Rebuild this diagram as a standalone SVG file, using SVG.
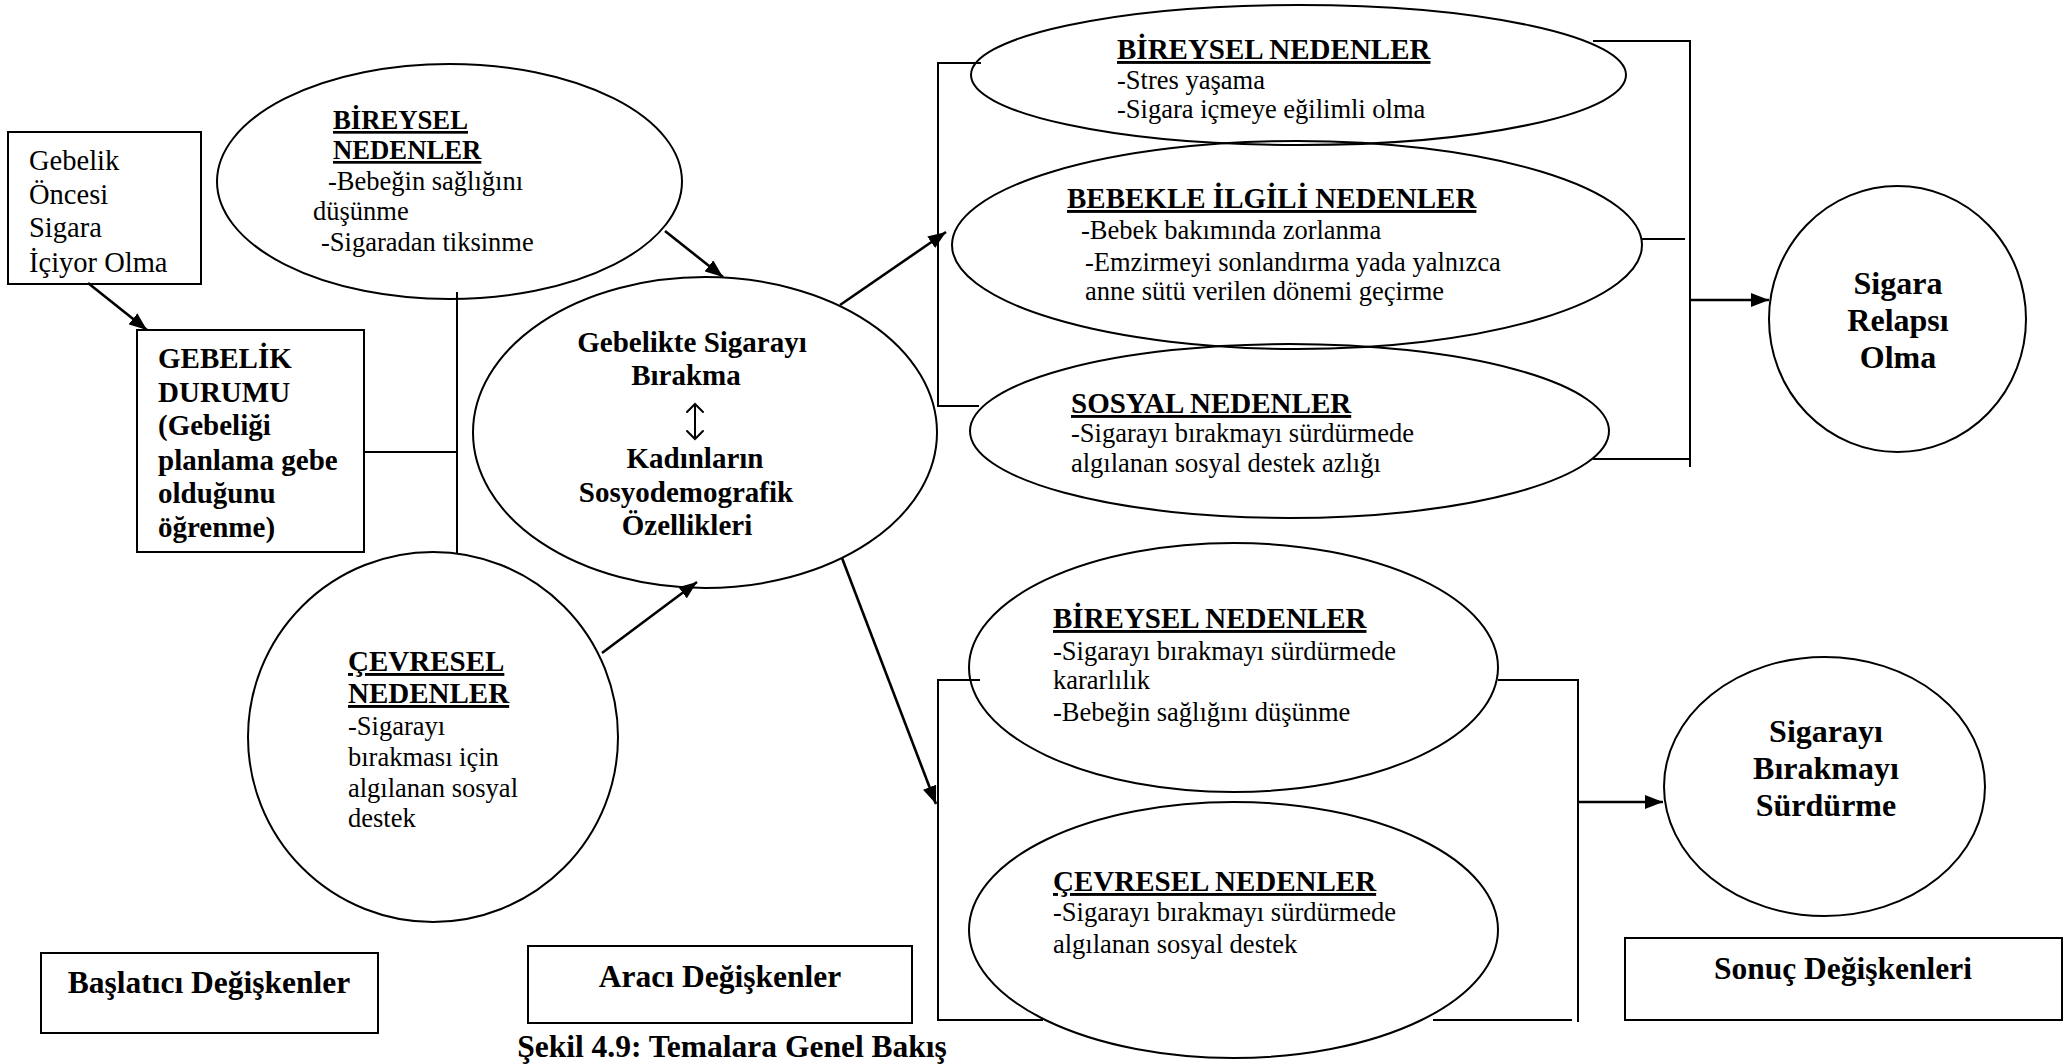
<svg xmlns="http://www.w3.org/2000/svg" width="2066" height="1064" viewBox="0 0 2066 1064">
  <defs>
    <style>
      .shape { fill: none; stroke: #000; stroke-width: 2; }
      .line { fill: none; stroke: #000; stroke-width: 2; }
      .arrow { fill: none; stroke: #000; stroke-width: 2.6; marker-end: url(#head); }
      .dbl { fill: none; stroke: #000; stroke-width: 2; stroke-linecap: round; stroke-linejoin: miter; }
      text { font-family: "Liberation Serif", "Times New Roman", serif; fill: #000; }
      .body { font-size: 26.5px; }
      .body29 { font-size: 28.5px; }
      .bold29 { font-size: 29px; font-weight: bold; }
      .head { font-size: 29px; font-weight: bold; text-decoration: underline; }
      .head27 { font-size: 26.7px; font-weight: bold; text-decoration: underline; }
      .big { font-size: 32px; font-weight: bold; text-anchor: middle; }
      .label { font-size: 31.5px; font-weight: bold; text-anchor: middle; }
      .mid { text-anchor: middle; }
    </style>
    <marker id="head" viewBox="0 0 18 14" refX="18" refY="7" markerWidth="18" markerHeight="14" markerUnits="userSpaceOnUse" orient="auto">
      <path d="M0,0 L18,7 L0,14 z" fill="#000"/>
    </marker>
  </defs>
  <rect width="2066" height="1064" fill="#fff"/>

  <!-- connectors -->
  <g id="connectors">
    <line class="arrow" x1="88" y1="283" x2="147" y2="330"/>
    <line class="line" x1="363" y1="452" x2="457" y2="452"/>
    <line class="line" x1="457" y1="292" x2="457" y2="553"/>
    <line class="arrow" x1="665" y1="231" x2="723" y2="277"/>
    <line class="arrow" x1="602" y1="653" x2="697" y2="582"/>
    <line class="arrow" x1="840" y1="305" x2="946" y2="232"/>
    <line class="arrow" x1="842" y1="558" x2="936" y2="804"/>
    <!-- upper group brackets -->
    <polyline class="line" points="981,63 938,63 938,406 979,406"/>
    <polyline class="line" points="1593,41 1690,41 1690,467"/>
    <line class="line" x1="1593" y1="459" x2="1690" y2="459"/>
    <line class="line" x1="1642" y1="239" x2="1685" y2="239"/>
    <line class="arrow" x1="1690" y1="300" x2="1769" y2="300"/>
    <!-- lower group brackets -->
    <polyline class="line" points="980,680 938,680 938,1020 1043,1020"/>
    <polyline class="line" points="1498,680 1578,680 1578,1022"/>
    <line class="line" x1="1433" y1="1020" x2="1572" y2="1020"/>
    <line class="arrow" x1="1578" y1="802" x2="1663" y2="802"/>
  </g>

  <g id="gebelik-oncesi">
    <rect class="shape" x="8" y="132" width="193" height="152"/>
    <text class="body29" x="29" y="170">Gebelik</text>
    <text class="body29" x="29" y="204">Öncesi</text>
    <text class="body29" x="29" y="237">Sigara</text>
    <text class="body29" x="29" y="272">İçiyor Olma</text>
  </g>

  <g id="gebelik-durumu">
    <rect class="shape" x="137" y="330" width="227" height="222"/>
    <text class="bold29" x="158" y="368">GEBELİK</text>
    <text class="bold29" x="158" y="402">DURUMU</text>
    <text class="bold29" x="158" y="435">(Gebeliği</text>
    <text class="bold29" x="158" y="470">planlama gebe</text>
    <text class="bold29" x="158" y="503">olduğunu</text>
    <text class="bold29" x="158" y="537">öğrenme)</text>
  </g>

  <g id="bireysel-nedenler-1">
    <ellipse class="shape" cx="449.5" cy="181.5" rx="232.5" ry="117.5"/>
    <text class="head27" x="333" y="129">BİREYSEL</text>
    <text class="head27" x="333" y="159">NEDENLER</text>
    <text class="body" x="328" y="190">-Bebeğin sağlığını</text>
    <text class="body" x="313" y="220">düşünme</text>
    <text class="body" x="321" y="251">-Sigaradan tiksinme</text>
  </g>

  <g id="cevresel-nedenler-1">
    <circle class="shape" cx="433" cy="737" r="185"/>
    <text class="head" x="348" y="671">ÇEVRESEL</text>
    <text class="head" x="348" y="703">NEDENLER</text>
    <text class="body" x="348" y="735">-Sigarayı</text>
    <text class="body" x="348" y="766">bırakması için</text>
    <text class="body" x="348" y="797">algılanan sosyal</text>
    <text class="body" x="348" y="827">destek</text>
  </g>

  <g id="gebelikte-birakma">
    <ellipse class="shape" cx="705" cy="432.5" rx="232" ry="155.5"/>
    <text class="bold29 mid" x="692" y="352">Gebelikte Sigarayı</text>
    <text class="bold29 mid" x="686" y="385">Bırakma</text>
    <!-- two-way arrow between the two lines -->
    <path class="dbl" d="M695,404 V439 M687,412 L695,404 L703,412 M687,431 L695,439 L703,431"/>
    <text class="bold29 mid" x="695" y="468">Kadınların</text>
    <text class="bold29 mid" x="686" y="502">Sosyodemografik</text>
    <text class="bold29 mid" x="687" y="535">Özellikleri</text>
  </g>

  <g id="bireysel-nedenler-2">
    <ellipse class="shape" cx="1298.5" cy="75" rx="327.5" ry="70"/>
    <text class="head" x="1117" y="59">BİREYSEL NEDENLER</text>
    <text class="body" x="1117" y="89">-Stres yaşama</text>
    <text class="body" x="1117" y="118">-Sigara içmeye eğilimli olma</text>
  </g>

  <g id="bebekle-ilgili">
    <ellipse class="shape" cx="1297" cy="245" rx="345" ry="104"/>
    <text class="head" x="1067" y="208">BEBEKLE İLGİLİ NEDENLER</text>
    <text class="body" x="1081" y="239">-Bebek bakımında zorlanma</text>
    <text class="body" x="1085" y="271">-Emzirmeyi sonlandırma yada yalnızca</text>
    <text class="body" x="1085" y="300">anne sütü verilen dönemi geçirme</text>
  </g>

  <g id="sosyal-nedenler">
    <ellipse class="shape" cx="1289.5" cy="431" rx="319.5" ry="87"/>
    <text class="head" x="1071" y="413">SOSYAL NEDENLER</text>
    <text class="body" x="1071" y="442">-Sigarayı bırakmayı sürdürmede</text>
    <text class="body" x="1071" y="472">algılanan sosyal destek azlığı</text>
  </g>

  <g id="bireysel-nedenler-3">
    <ellipse class="shape" cx="1233.5" cy="667.5" rx="264.5" ry="124.5"/>
    <text class="head" x="1053" y="628">BİREYSEL NEDENLER</text>
    <text class="body" x="1053" y="660">-Sigarayı bırakmayı sürdürmede</text>
    <text class="body" x="1053" y="689">kararlılık</text>
    <text class="body" x="1053" y="721">-Bebeğin sağlığını düşünme</text>
  </g>

  <g id="cevresel-nedenler-2">
    <ellipse class="shape" cx="1233.5" cy="930" rx="264.5" ry="128"/>
    <text class="head" x="1053" y="891">ÇEVRESEL NEDENLER</text>
    <text class="body" x="1053" y="921">-Sigarayı bırakmayı sürdürmede</text>
    <text class="body" x="1053" y="953">algılanan sosyal destek</text>
  </g>

  <g id="sigara-relapsi">
    <ellipse class="shape" cx="1897.5" cy="319" rx="128.5" ry="133"/>
    <text class="big" x="1898" y="294">Sigara</text>
    <text class="big" x="1898" y="331">Relapsı</text>
    <text class="big" x="1898" y="368">Olma</text>
  </g>

  <g id="birakmayi-surdurme">
    <ellipse class="shape" cx="1824.5" cy="786.5" rx="160.5" ry="129.5"/>
    <text class="big" x="1826" y="742">Sigarayı</text>
    <text class="big" x="1826" y="779">Bırakmayı</text>
    <text class="big" x="1826" y="816">Sürdürme</text>
  </g>

  <g id="baslatici">
    <rect class="shape" x="41" y="953" width="337" height="80"/>
    <text class="label" x="209" y="993">Başlatıcı Değişkenler</text>
  </g>

  <g id="araci">
    <rect class="shape" x="528" y="946" width="384" height="77"/>
    <text class="label" x="720" y="987">Aracı Değişkenler</text>
  </g>

  <g id="sonuc">
    <rect class="shape" x="1625" y="938" width="437" height="82"/>
    <text class="label" x="1843" y="979">Sonuç Değişkenleri</text>
  </g>

  <g id="caption">
    <text class="label" x="732" y="1057">Şekil 4.9: Temalara Genel Bakış</text>
  </g>
</svg>
